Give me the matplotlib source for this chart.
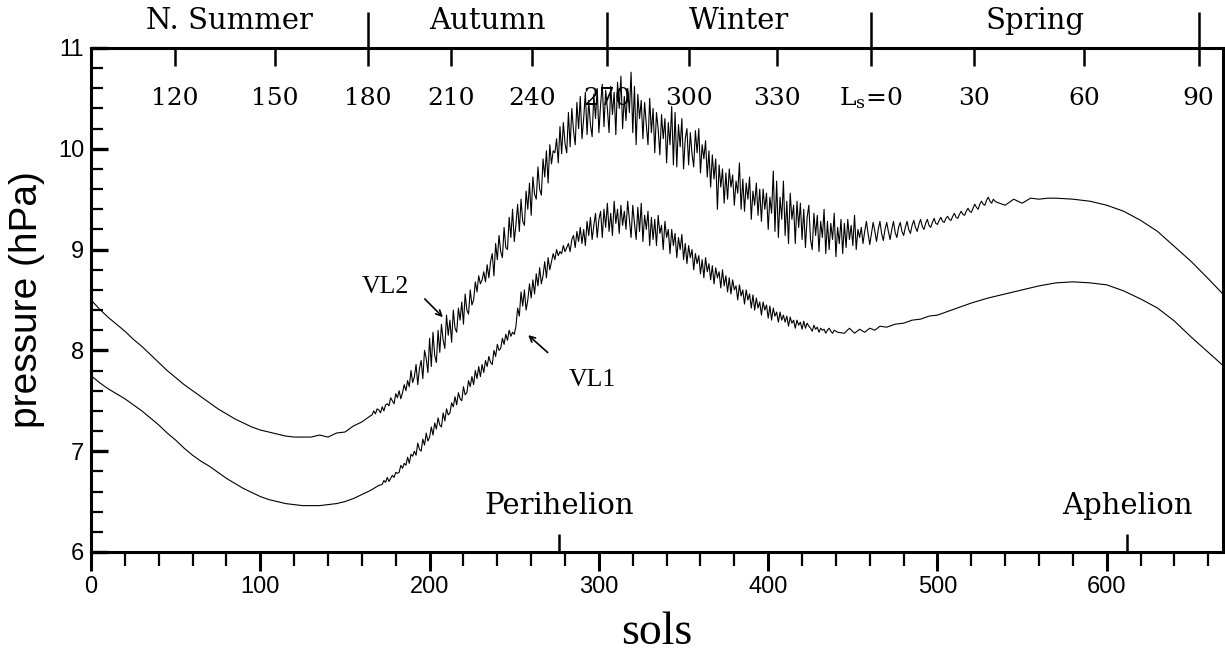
import numpy as np
import matplotlib
matplotlib.use("Agg")
import matplotlib.pyplot as plt
from matplotlib.ticker import MultipleLocator

# ---- data (pressure in hPa vs sols) ----
# VL2: smooth start, noisy middle (one value per sol), smooth end
vl2_sols_a = list(range(0, 166, 5))
vl2_p_a = [8.50, 8.41, 8.33, 8.26, 8.19, 8.11, 8.04, 7.96, 7.88, 7.80,
           7.73, 7.66, 7.60, 7.54, 7.48, 7.42, 7.37, 7.32, 7.28, 7.24,
           7.21, 7.19, 7.17, 7.15, 7.14, 7.14, 7.14, 7.16, 7.14, 7.18,
           7.19, 7.25, 7.29, 7.35]
vl2_sols_b = list(range(166, 536))
vl2_p_b = [
    7.36, 7.40, 7.37, 7.42, 7.41, 7.38, 7.44, 7.40, 7.46, 7.47,
    7.45, 7.53, 7.50, 7.47, 7.57, 7.53, 7.60, 7.52, 7.58, 7.66,
    7.60, 7.70, 7.64, 7.80, 7.68, 7.74, 7.86, 7.66, 7.82, 7.90,
    7.72, 8.00, 7.92, 7.78, 8.12, 7.84, 8.18, 7.95, 7.88, 8.20,
    7.98, 8.26, 8.10, 8.02, 8.35, 8.15, 8.30, 8.08, 8.40, 8.22,
    8.18, 8.42, 8.30, 8.48, 8.26, 8.56, 8.40, 8.36, 8.60, 8.45,
    8.50, 8.68, 8.58, 8.74, 8.66, 8.70, 8.78, 8.68, 8.85, 8.72,
    8.88, 8.96, 8.74, 9.06, 8.90, 9.14, 8.98, 8.92, 9.22, 9.02,
    9.00, 9.32, 9.12, 9.40, 9.08, 9.25, 9.45, 9.18, 9.50, 9.28,
    9.24, 9.58, 9.40, 9.66, 9.34, 9.72, 9.55, 9.50, 9.82, 9.60,
    9.54, 9.90, 9.72, 9.98, 9.66, 10.04, 9.85, 9.98, 9.96, 10.10,
    9.86, 10.22, 9.95, 10.26, 10.05, 9.96, 10.36, 10.02, 10.40, 10.18,
    10.04, 10.46, 10.20, 10.52, 10.10, 10.30, 10.56, 10.14, 10.48, 10.24,
    10.12, 10.54, 10.30, 10.60, 10.16, 10.44, 10.64, 10.22, 10.58, 10.40,
    10.16, 10.62, 10.34, 10.56, 10.14, 10.66, 10.40, 10.72, 10.20, 10.52,
    10.28, 10.60, 10.36, 10.76, 10.16, 10.62, 10.04, 10.54, 10.30, 10.48,
    10.10, 10.46, 10.24, 10.04, 10.50, 10.16, 10.40, 9.96, 10.36, 10.20,
    9.94, 10.34, 10.10, 10.30, 9.86, 10.26, 10.04, 10.42, 9.84, 10.36,
    9.82, 10.24, 10.02, 10.30, 9.80, 10.10, 10.20, 9.84, 10.16, 9.95,
    9.82, 10.18, 9.96, 10.20, 9.76, 10.04, 9.90, 10.08, 9.72, 9.98,
    9.62, 9.94, 9.70, 9.90, 9.40, 9.84, 9.62, 9.80, 9.46, 9.76,
    9.50, 9.80, 9.62, 9.74, 9.44, 9.68, 9.56, 9.86, 9.40, 9.70,
    9.38, 9.66, 9.50, 9.72, 9.30, 9.58, 9.44, 9.66, 9.34, 9.60,
    9.28, 9.60, 9.40, 9.56, 9.20, 9.52, 9.36, 9.78, 9.18, 9.68,
    9.12, 9.52, 9.30, 9.68, 9.14, 9.48, 9.06, 9.56, 9.30, 9.44,
    9.06, 9.48, 9.22, 9.46, 9.10, 9.40, 9.02, 9.32, 9.44, 9.10,
    9.00, 9.36, 9.14, 9.34, 8.98, 9.28, 9.12, 9.40, 8.96, 9.28,
    9.00, 9.26, 9.10, 9.36, 8.93, 9.22, 9.06, 9.30, 8.96, 9.26,
    9.02, 9.30, 9.10, 9.24, 9.04, 9.34, 9.00, 9.20, 9.12, 9.22,
    9.06, 9.18, 9.28, 9.16, 9.05, 9.16, 9.27, 9.18, 9.08, 9.20,
    9.28, 9.16, 9.09, 9.20, 9.27, 9.18, 9.10, 9.20, 9.28, 9.17,
    9.12, 9.22, 9.27, 9.18, 9.14, 9.22, 9.28, 9.20, 9.16, 9.24,
    9.29, 9.22, 9.18, 9.25, 9.30, 9.23, 9.20, 9.26, 9.30, 9.24,
    9.22, 9.27, 9.31, 9.26, 9.25, 9.29, 9.32, 9.28, 9.27, 9.31,
    9.33, 9.30, 9.29, 9.33, 9.36, 9.32, 9.31, 9.35, 9.38, 9.35,
    9.34, 9.38, 9.41, 9.38, 9.37, 9.41, 9.45, 9.42, 9.40, 9.45,
    9.48, 9.45, 9.44, 9.49, 9.52, 9.48, 9.46, 9.50, 9.48, 9.47,
]
vl2_sols_c = [540, 545, 550, 555, 560, 565, 570, 580, 590, 600,
              610, 620, 630, 640, 650, 660, 668]
vl2_p_c = [9.44, 9.50, 9.46, 9.51, 9.50, 9.51, 9.51, 9.50, 9.48, 9.44,
           9.38, 9.29, 9.18, 9.03, 8.88, 8.71, 8.57]

# VL1
vl1_sols_a = list(range(0, 171, 5))
vl1_p_a = [7.75, 7.68, 7.62, 7.57, 7.52, 7.46, 7.40, 7.33, 7.26, 7.18,
           7.11, 7.03, 6.96, 6.90, 6.85, 6.79, 6.73, 6.68, 6.63, 6.59,
           6.55, 6.52, 6.50, 6.48, 6.47, 6.46, 6.46, 6.46, 6.47, 6.48,
           6.50, 6.53, 6.57, 6.61, 6.66]
vl1_sols_b = list(range(172, 442))
vl1_p_b = [
    6.67, 6.71, 6.69, 6.74, 6.70, 6.73, 6.76, 6.74, 6.79, 6.78,
    6.79, 6.86, 6.83, 6.88, 6.86, 6.94, 6.88, 6.97, 6.95, 7.00,
    6.96, 7.08, 7.02, 7.00, 7.12, 7.06, 7.18, 7.10, 7.14, 7.24,
    7.16, 7.28, 7.22, 7.33, 7.26, 7.24, 7.38, 7.30, 7.42, 7.36,
    7.38, 7.48, 7.44, 7.54, 7.46, 7.58, 7.52, 7.50, 7.64, 7.56,
    7.58, 7.70, 7.64, 7.74, 7.66, 7.80, 7.72, 7.84, 7.74, 7.86,
    7.78, 7.90, 7.84, 7.94, 7.88, 7.86, 8.00, 7.94, 8.06, 8.00,
    8.02, 8.12, 8.06, 8.16, 8.10, 8.20, 8.14, 8.18, 8.16, 8.24,
    8.42, 8.34, 8.58, 8.44, 8.60, 8.40, 8.50, 8.66, 8.52, 8.70,
    8.56, 8.76, 8.64, 8.82, 8.66, 8.74, 8.88, 8.72, 8.92, 8.80,
    8.88, 8.96, 8.90, 9.00, 8.94, 8.98, 8.96, 9.04, 8.98, 9.02,
    9.06, 8.98, 9.10, 9.14, 9.02, 9.18, 9.08, 9.22, 9.06, 9.20,
    9.04, 9.28, 9.14, 9.32, 9.10, 9.24, 9.36, 9.12, 9.30, 9.38,
    9.12, 9.40, 9.22, 9.46, 9.18, 9.36, 9.14, 9.48, 9.26, 9.40,
    9.16, 9.44, 9.24, 9.38, 9.20, 9.48, 9.30, 9.12, 9.44, 9.26,
    9.10, 9.42, 9.18, 9.46, 9.08, 9.34, 9.20, 9.38, 9.04, 9.32,
    9.10, 9.30, 9.04, 9.34, 9.16, 9.24, 9.00, 9.28, 9.12, 9.20,
    8.96, 9.20, 9.04, 9.16, 8.92, 9.12, 9.00, 9.15, 8.90, 9.06,
    8.86, 9.04, 8.92, 9.00, 8.80, 8.96, 8.86, 8.94, 8.76, 8.90,
    8.72, 8.92, 8.78, 8.86, 8.70, 8.84, 8.66, 8.82, 8.72, 8.78,
    8.62, 8.80, 8.64, 8.74, 8.58, 8.72, 8.56, 8.70, 8.60, 8.64,
    8.50, 8.65, 8.54, 8.60, 8.46, 8.60, 8.50, 8.56, 8.42, 8.55,
    8.40, 8.52, 8.42, 8.48, 8.35, 8.48, 8.40, 8.45, 8.32, 8.44,
    8.30, 8.42, 8.34, 8.38, 8.28, 8.38, 8.30, 8.35, 8.28, 8.34,
    8.24, 8.33, 8.27, 8.30, 8.22, 8.30, 8.25, 8.28, 8.21, 8.29,
    8.22, 8.27, 8.24, 8.22, 8.19, 8.25, 8.21, 8.23, 8.18, 8.22,
    8.20, 8.21, 8.17, 8.20, 8.22, 8.19, 8.17, 8.20, 8.19, 8.18,
]
vl1_sols_c = [445, 448, 451, 454, 457, 460, 463, 466, 470, 475,
              480, 485, 490, 495, 500, 510, 520, 530, 540, 550,
              560, 570, 580, 590, 600, 610, 620, 630, 640, 650,
              660, 668]
vl1_p_c = [8.17, 8.22, 8.17, 8.21, 8.18, 8.22, 8.20, 8.24, 8.23, 8.26,
           8.27, 8.30, 8.31, 8.34, 8.35, 8.41, 8.47, 8.52, 8.56, 8.60,
           8.64, 8.67, 8.68, 8.67, 8.65, 8.59, 8.51, 8.42, 8.29, 8.13,
           7.98, 7.86]

# solar longitude (Ls) marks on the top axis, as sol positions
ls_sols = [49.5, 108.8, 163.4, 212.8, 260.3, 305.0, 353.1, 405.2,
           460.9, 521.7, 586.6, 654.3]
ls_labels = ["120", "150", "180", "210", "240", "270", "300", "330",
             "L$_{\\mathrm{s}}$=0", "30", "60", "90"]
season_edges = [0, 163.4, 305.0, 460.9, 654.3]
season_names = ["N. Summer", "Autumn", "Winter", "Spring"]
perihelion_sol = 276.7
aphelion_sol = 612.0
year_len = 668.6

plt.rcParams["mathtext.fontset"] = "dejavuserif"
serif = "DejaVu Serif"
times = "Liberation Serif"
sans = "Liberation Sans"

fig = plt.figure(figsize=(12.25, 6.52), dpi=100)
ax = fig.add_axes([0.0743, 0.1534, 0.924, 0.773])

vl2_sols = vl2_sols_a + vl2_sols_b + vl2_sols_c
vl2_p = vl2_p_a + vl2_p_b + vl2_p_c
vl1_sols = vl1_sols_a + vl1_sols_b + vl1_sols_c
vl1_p = vl1_p_a + vl1_p_b + vl1_p_c

ax.plot(vl2_sols, vl2_p, color="black", lw=0.8)
ax.plot(vl1_sols, vl1_p, color="black", lw=0.8)

ax.set_xlim(0, year_len)
ax.set_ylim(6, 11)

for s in ax.spines.values():
    s.set_linewidth(2.2)

ax.xaxis.set_major_locator(MultipleLocator(100))
ax.xaxis.set_minor_locator(MultipleLocator(20))
ax.yaxis.set_major_locator(MultipleLocator(1))
ax.yaxis.set_minor_locator(MultipleLocator(0.2))
ax.tick_params(axis="x", which="major", direction="out", length=14, width=2.2,
               labelsize=17, pad=3)
ax.tick_params(axis="x", which="minor", direction="out", length=10, width=1.6)
ax.tick_params(axis="y", which="major", direction="in", length=12, width=2.4,
               labelsize=17, pad=5)
ax.tick_params(axis="y", which="minor", direction="in", length=8.5, width=1.6)
ax.tick_params(top=False, right=False, which="both")
for lab in ax.get_xticklabels() + ax.get_yticklabels():
    lab.set_fontfamily(sans)

ax.set_xlabel("sols", fontsize=33, fontfamily=times, labelpad=10)
ax.set_ylabel("pressure (hPa)", fontsize=28, fontfamily=sans, labelpad=9)

# Ls ticks (inside, from top spine)
ax_ls = ax.twiny()
ax_ls.set_xlim(ax.get_xlim())
ax_ls.set_xticks(ls_sols)
ax_ls.tick_params(axis="x", direction="in", length=13, width=1.8, labeltop=False)
for s in ax_ls.spines.values():
    s.set_visible(False)
for xs, lab in zip(ls_sols, ls_labels):
    ax.text(xs, 10.5, lab, ha="center", va="center", fontsize=18, fontfamily=serif)

# season boundaries (outside, above top spine)
ax_sea = ax.twiny()
ax_sea.set_xlim(ax.get_xlim())
ax_sea.set_xticks(season_edges[1:])
ax_sea.tick_params(axis="x", direction="out", length=26, width=1.8, labeltop=False)
for s in ax_sea.spines.values():
    s.set_visible(False)
for i, name in enumerate(season_names):
    mid = (season_edges[i] + season_edges[i + 1]) / 2
    ax.text(mid, 1.053, name, transform=ax.get_xaxis_transform(),
            ha="center", va="center", fontsize=21, fontfamily=serif)

# perihelion / aphelion ticks
ax_orb = ax.secondary_xaxis("bottom")
ax_orb.set_xticks([perihelion_sol, aphelion_sol])
ax_orb.tick_params(axis="x", direction="in", length=13, width=1.8, labelbottom=False)
ax_orb.spines["bottom"].set_visible(False)
ax.text(perihelion_sol, 6.46, "Perihelion", ha="center", va="center",
        fontsize=21, fontfamily=serif)
ax.text(aphelion_sol, 6.46, "Aphelion", ha="center", va="center",
        fontsize=21, fontfamily=serif)

# station labels
ax.annotate("", xy=(209, 8.31), xytext=(196, 8.53),
            arrowprops=dict(arrowstyle="->", lw=1.2, color="black"))
ax.text(174, 8.63, "VL2", ha="center", va="center", fontsize=18.5, fontfamily=times)
ax.annotate("", xy=(257, 8.17), xytext=(271, 7.96),
            arrowprops=dict(arrowstyle="->", lw=1.2, color="black"))
ax.text(296, 7.71, "VL1", ha="center", va="center", fontsize=18.5, fontfamily=times)

fig.savefig("out.png", dpi=100)
